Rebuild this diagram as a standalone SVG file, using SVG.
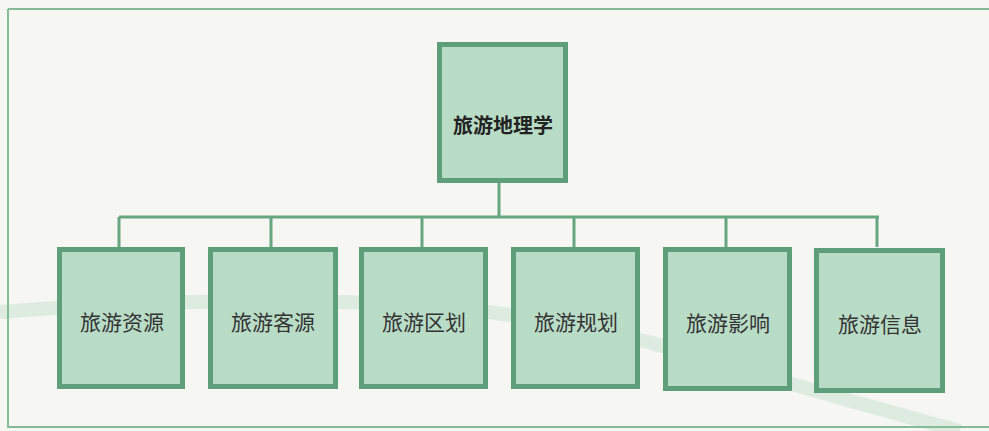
<svg xmlns="http://www.w3.org/2000/svg" width="989" height="431" viewBox="0 0 989 431">
<style>
.box{fill:#b9dcc7;stroke:#5e9e7a;stroke-width:5}
.lbl{font-family:"Noto Sans CJK SC","Noto Sans CJK TC",sans-serif;font-size:21px;fill:#333;text-anchor:middle;dominant-baseline:central}
.root{fill:#222;font-weight:bold;font-size:20px}
.con{stroke:#67a681;stroke-width:3;fill:none}
</style>
<rect width="989" height="431" fill="#f6f6f2"/>
<path d="M0,312 C150,300 330,296 470,310 C600,324 680,350 760,375 C840,398 900,415 960,431" fill="none" stroke="#cde5d6" stroke-width="14" opacity="0.6"/>
<path d="M8,9 H989 M8,9 V427 H989" fill="none" stroke="#86bb9a" stroke-width="2"/>
<g id="connectors">
<path class="con" d="M499,183 V217 M119,217 H879 M119,217 V247 M271,217 V247 M422,217 V247 M574,217 V247 M726,217 V247 M877,217 V247"/>
</g>
<g id="root"><rect class="box" x="439.5" y="44.5" width="126" height="136"/><text class="lbl root" x="503" y="124">旅游地理学</text></g>
<g id="n1"><rect class="box" x="59.5" y="249.5" width="123" height="137"/><text class="lbl" x="122" y="321">旅游资源</text></g>
<g id="n2"><rect class="box" x="210.5" y="249.5" width="125" height="137"/><text class="lbl" x="273" y="321">旅游客源</text></g>
<g id="n3"><rect class="box" x="361.5" y="249.5" width="124" height="137"/><text class="lbl" x="424" y="321">旅游区划</text></g>
<g id="n4"><rect class="box" x="513.5" y="249.5" width="124" height="137"/><text class="lbl" x="576" y="321">旅游规划</text></g>
<g id="n5"><rect class="box" x="665.5" y="249.5" width="124" height="139"/><text class="lbl" x="728" y="322">旅游影响</text></g>
<g id="n6"><rect class="box" x="816.5" y="250.5" width="126" height="140"/><text class="lbl" x="880" y="323">旅游信息</text></g>
</svg>
